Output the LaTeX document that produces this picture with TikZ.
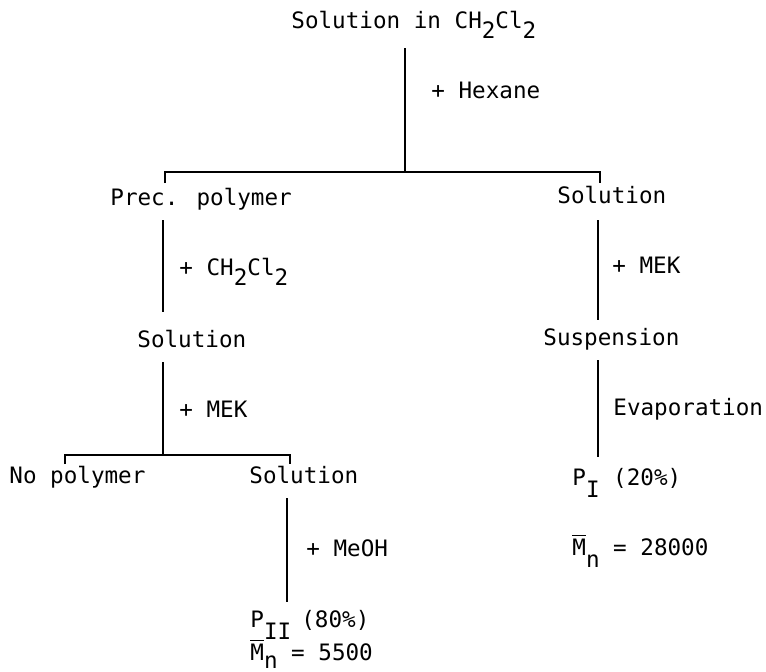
\documentclass[tikz,border=0pt]{standalone}
\usepackage{fontspec}
\setmainfont{DejaVu Sans Mono}
\usepackage{tikz}
\usetikzlibrary{calc,positioning}

\newcommand{\lowered}[2][5pt]{\raisebox{-#1}{#2}}
\newcommand{\mnbar}{$\overline{\mbox{M}}$}

\begin{document}
\begin{tikzpicture}[x=0.5pt, y=-0.5pt,
        label/.style={anchor=base west, inner sep=0pt, text height=9pt, text depth=3pt,
        font=\fontsize{11.3pt}{13pt}\selectfont},
        link/.style={draw=black, line width=1.1pt},
        thinlink/.style={draw=black, line width=0.7pt},]
    \useasboundingbox (0,0) rectangle (766,671);

    % first step
    \node (top) [label] at (291,28) {Solution in CH\lowered{2}Cl\lowered{2}};
    \node (hexane) [label] at (431,98) {+ Hexane};
    \node (prec) [label] at (110,205) {Prec. polymer};
    \node (solR) [label] at (557,203) {Solution};

    % left branch
    \node (addch) [label] at (179,275) {+ CH\lowered{2}Cl\lowered{2}};
    \node (solL) [label] at (137,347) {Solution};
    \node (mekL) [label] at (179,417) {+ MEK};
    \node (nopoly) [label] at (9,483) {No polymer};
    \node (solB) [label] at (249,483) {Solution};
    \node (meoh) [label] at (306,556) {+ MeOH};
    \node (ptwo) [label] at (250,627) {P\lowered[6pt]{II}\hspace{0.45em}(80\%)};
    \node (mtwo) [label] at (250,660) {\mnbar\lowered[4pt]{n} = 5500};

    % right branch
    \node (mekR) [label] at (612,273) {+ MEK};
    \node (susp) [label] at (543,345) {Suspension};
    \node (evap) [label] at (613,415) {Evaporation};
    \node (pone) [label] at (572,485) {P\lowered[6pt]{I} (20\%)};
    \node (mone) [label] at (572,555) {\mnbar\lowered[6pt]{n} = 28000};

    % spines and branch points
    \coordinate (j1) at (405,172);
    \coordinate (j2) at (163,455);
    \coordinate (sL) at (163,0);
    \coordinate (sR) at (598,0);
    \coordinate (sB) at (287,0);
    \coordinate (kL) at (165,183);
    \coordinate (kR) at (600,183);
    \coordinate (kBL) at (65,464);
    \coordinate (kBR) at (290,464);

    \draw [link, shorten <=7pt] (top.south -| j1) -- (j1);
    \draw [link] (kL) |- (j1) -| (kR);

    \draw [link, shorten <=4.5pt, shorten >=8.5pt] (prec.south -| sL) -- (solL.north -| sL);
    \draw [link, shorten <=4.5pt] (solL.south -| sL) -- (j2);
    \draw [link] (kBL) |- (j2) -| (kBR);
    \draw [thinlink, shorten <=4.5pt, shorten >=3.5pt] (solB.south -| sB) -- (ptwo.north -| sB);

    \draw [link, shorten <=5.5pt, shorten >=3.5pt] (solR.south -| sR) -- (susp.north -| sR);
    \draw [link, shorten <=4.5pt, shorten >=5pt] (susp.south -| sR) -- (pone.north -| sR);
\end{tikzpicture}
\end{document}
